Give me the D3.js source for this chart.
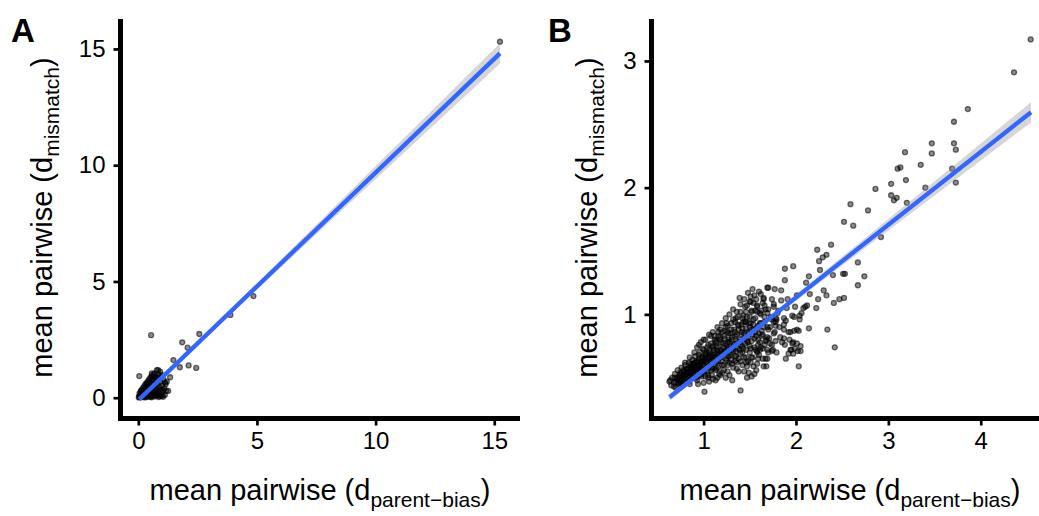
<!DOCTYPE html>
<html>
<head>
<meta charset="utf-8">
<script src="https://cdn.jsdelivr.net/npm/d3@7"></script>
<style>
  body { margin: 0; background: #fff; }
  text { font-family: "Liberation Sans", Arial, Helvetica, sans-serif; fill: #000; }
</style>
</head>
<body>
<svg id="chart" width="1039" height="516"></svg>
<script>
// ---- Panel A: all pairs (x = d parent-bias, y = d mismatch) ----
const pointsA = [
  [15.24,15.31],[4.85,4.37],[3.88,3.56],[2.57,2.74],[0.54,2.69],[1.85,2.38],[2.08,2.15],
  [1.48,1.62],[1.75,1.31],[2.12,1.39],[2.44,1.28],[0.04,0.93],[1.34,0.88],[1.26,0.29],
  [0.84,1.19],[0.98,0.98],[1.13,0.65],[0.78,1.19],[0.57,1.05],[0.92,1.12],[1.20,0.69],
  [1.05,0.04],[0.99,0.12],
  [0.02,0.01],[0.04,0.06],[0.06,0.02],[0.08,0.12],[0.10,0.04],[0.11,0.09],[0.13,0.17],
  [0.14,0.03],[0.16,0.11],[0.18,0.22],[0.19,0.06],[0.21,0.15],[0.23,0.28],[0.24,0.02],
  [0.26,0.12],[0.28,0.20],[0.29,0.33],[0.31,0.07],[0.33,0.25],[0.34,0.15],[0.36,0.38],
  [0.38,0.04],[0.39,0.22],[0.41,0.30],[0.43,0.12],[0.44,0.44],[0.46,0.26],[0.48,0.06],
  [0.49,0.36],[0.51,0.50],[0.53,0.18],[0.54,0.31],[0.56,0.02],[0.58,0.42],[0.59,0.56],
  [0.61,0.24],[0.63,0.10],[0.64,0.48],[0.66,0.62],[0.68,0.33],[0.69,0.05],[0.71,0.54],
  [0.73,0.70],[0.74,0.20],[0.76,0.40],[0.78,0.08],[0.79,0.76],[0.81,0.60],[0.83,0.28],
  [0.85,0.03],[0.86,0.84],[0.88,0.46],[0.90,0.15],[0.92,0.68],[0.94,0.36],[0.96,0.90],
  [0.98,0.07],[1.00,0.52],[1.03,0.24],[1.06,0.78],[1.09,0.40],[1.12,0.12],[1.15,0.58],
  [1.18,0.30],
  [0.10,0.26],[0.15,0.35],[0.20,0.42],[0.25,0.50],[0.30,0.58],[0.35,0.64],[0.40,0.70],
  [0.45,0.78],[0.50,0.85],[0.55,0.88],[0.60,0.80],[0.65,0.92],[0.70,0.98],[0.48,0.66],
  [0.38,0.55],[0.62,0.74],[0.28,0.44],[0.12,0.30],[0.05,0.18],[0.22,0.05],[0.32,0.02],
  [0.44,0.08],[0.52,0.04],[0.62,0.16],[0.72,0.12],[0.82,0.18],[0.92,0.06],[1.02,0.34],
  [0.75,0.88],[0.85,1.00],[0.67,1.05],[0.57,0.96]
];

// ---- Panel B: subset without the extreme pair ----
const pointsB = [
  [4.54,3.17],[4.36,2.91],[3.86,2.62],[3.71,2.52],[3.71,2.35],[3.73,2.30],[3.47,2.35],
  [3.47,2.27],[3.18,2.28],[3.10,2.15],[3.13,2.16],[3.35,2.18],[3.69,2.15],[3.19,2.06],
  [2.86,1.99],[3.03,2.03],[3.40,2.00],[3.73,2.04],[3.03,1.94],[3.09,1.92],[3.06,1.90],
  [3.20,1.88],[2.59,1.87],[2.78,1.82],[2.52,1.73],[2.62,1.70],[2.92,1.61],[2.38,1.55],
  [2.23,1.51],[2.33,1.47],[2.29,1.45],[2.25,1.42],[1.88,1.36],[1.97,1.38],[2.26,1.35],
  [2.67,1.41],[1.88,1.27],[2.14,1.30],[2.40,1.31],[2.51,1.32],[2.53,1.32],[2.74,1.30],
  [2.67,1.23],[2.11,1.25],[1.69,1.21],[1.70,1.21],[1.77,1.20],[1.84,1.19],[2.30,1.19],
  [2.33,1.15],[2.15,1.16],[2.01,1.15],[1.65,1.13],[1.74,1.12],[1.84,1.11],[1.91,1.12],
  [2.24,1.12],[2.47,1.12],[2.52,1.13],[2.41,1.09],[2.12,1.07],[2.08,1.05],[2.10,1.06],
  [2.22,1.05],[1.99,1.06],[1.66,1.07],[1.76,1.06],[1.81,1.03],[1.63,1.03],[1.69,1.01],
  [1.66,0.98],[1.96,0.99],[2.04,0.99],[2.06,1.01],[1.87,0.97],[1.79,0.96],[1.76,0.94],
  [1.89,0.95],[2.04,0.96],[1.61,0.93],[1.65,0.90],[1.70,0.88],[1.78,0.91],[1.87,0.92],
  [2.14,0.89],[2.34,0.88],[1.98,0.87],[2.03,0.87],[1.92,0.86],[1.76,0.85],[1.69,0.82],
  [1.63,0.83],[1.83,0.82],[1.87,0.81],[1.78,0.79],[1.72,0.77],[1.67,0.79],[1.96,0.77],
  [2.01,0.77],[2.05,0.75],[1.99,0.73],[2.42,0.74],[1.61,0.72],[1.69,0.72],[1.74,0.71],
  [1.79,0.70],[1.94,0.72],[2.05,0.71],[1.97,0.69],[1.64,0.65],[1.69,0.65],[1.89,0.65],
  [1.68,0.59],[2.03,0.59],
  [1.51,1.14],[1.51,1.10],[1.54,1.09],[1.47,1.07],[1.58,1.06],[1.52,1.02],[1.58,1.02],
  [1.61,1.01],[1.37,0.98],[1.42,0.97],[1.32,0.96],[1.45,0.94],[1.98,0.98],[1.74,0.96],
  [1.78,0.94],[2.01,0.88],[1.87,0.88],[1.94,0.86],[1.93,0.80],[1.97,0.78],[2.02,0.71],
  [1.88,0.76],[1.95,0.72],[1.92,0.69],[1.59,0.65],[1.67,0.65],[1.65,0.59],[1.58,0.61],
  [1.54,0.59],[1.57,0.56],[1.47,0.59],[1.49,0.54],[1.52,0.51],[1.47,0.50],[1.31,0.48],
  [1.24,0.50],[1.20,0.54],[1.15,0.50],[1.13,0.56],[1.40,0.40],[1.01,0.39],[0.64,0.48],
  [0.69,0.50],[0.73,0.46],[0.68,0.43],[0.77,0.48],[0.78,0.44],[0.82,0.54],[0.78,0.56],
  [0.88,0.55],[0.75,0.54],[0.86,0.59],[0.93,0.59],[0.89,0.61],[1.02,0.51],[1.05,0.50],
  [1.00,0.46],[1.13,0.48],[1.09,0.52],[0.96,0.55],
  [0.63,0.47],[0.65,0.44],[0.66,0.50],[0.68,0.46],[0.69,0.53],[0.70,0.42],[0.71,0.49],
  [0.72,0.56],[0.73,0.45],[0.74,0.52],[0.75,0.48],[0.76,0.58],[0.77,0.44],[0.78,0.51],
  [0.79,0.55],[0.80,0.47],[0.80,0.60],[0.81,0.53],[0.82,0.49],[0.83,0.57],[0.84,0.62],
  [0.85,0.51],[0.85,0.45],[0.86,0.55],[0.87,0.59],[0.88,0.64],[0.88,0.50],[0.89,0.56],
  [0.90,0.60],[0.90,0.53],[0.91,0.67],[0.92,0.57],[0.93,0.62],[0.93,0.48],[0.94,0.54],
  [0.95,0.65],[0.95,0.59],[0.96,0.70],[0.97,0.56],[0.97,0.62],[0.98,0.51],[0.99,0.66],
  [1.00,0.60],[1.00,0.72],[1.01,0.55],[1.02,0.64],[1.02,0.68],[1.03,0.58],[1.04,0.74],
  [1.04,0.62],[1.05,0.52],[1.06,0.66],[1.06,0.70],[1.07,0.60],[1.08,0.77],[1.08,0.56],
  [1.09,0.64],[1.10,0.68],[1.10,0.49],[1.11,0.72],[1.12,0.61],[1.12,0.80],[1.13,0.66],
  [1.14,0.57],[1.14,0.75],[1.15,0.69],[1.16,0.63],[1.16,0.83],[1.17,0.53],[1.18,0.71],
  [1.18,0.66],[1.19,0.78],[1.20,0.60],[1.20,0.86],[1.21,0.70],[1.22,0.74],[1.22,0.56],
  [1.23,0.81],[1.24,0.65],[1.24,0.90],[1.25,0.72],[1.26,0.60],[1.26,0.78],[1.27,0.85],
  [1.28,0.69],[1.28,0.52],[1.29,0.75],[1.30,0.93],[1.30,0.64],[1.31,0.82],[1.32,0.71],
  [1.32,0.58],[1.33,0.88],[1.34,0.77],[1.34,0.67],[1.35,0.97],[1.36,0.62],[1.36,0.84],
  [1.37,0.73],[1.38,0.91],[1.38,0.55],[1.39,0.80],[1.40,0.69],[1.40,1.02],[1.41,0.86],
  [1.42,0.75],[1.42,0.60],[1.43,0.94],[1.44,0.81],[1.44,0.66],[1.45,1.06],[1.46,0.89],
  [1.46,0.72],[1.47,0.98],[1.48,0.78],[1.48,0.63],[1.49,0.85],[1.50,1.10],[1.50,0.70],
  [1.51,0.93],[1.52,0.79],[1.52,1.03],[1.53,0.66],[1.54,0.88],[1.55,1.15],[1.55,0.74],
  [1.56,0.97],[1.57,0.83],[1.58,1.07],[1.58,0.70],[1.59,0.91],[1.60,1.18],[1.61,0.78],
  [1.62,1.00],[1.63,0.87],[1.64,0.73],[1.65,1.12],[1.66,0.94],[1.68,0.80],[1.70,1.04],
  [1.72,0.90],[1.74,0.76],[1.76,1.08],[1.78,0.97],
  [0.72,0.50],[0.74,0.46],[0.76,0.53],[0.79,0.49],[0.81,0.57],[0.83,0.52],[0.84,0.47],
  [0.86,0.61],[0.87,0.53],[0.89,0.58],[0.91,0.51],[0.92,0.63],[0.94,0.57],[0.95,0.68],
  [0.96,0.52],[0.98,0.61],[0.99,0.73],[1.00,0.56],[1.01,0.65],[1.03,0.70],[1.04,0.59],
  [1.05,0.76],[1.07,0.63],[1.08,0.68],[1.09,0.58],[1.10,0.74],[1.11,0.66],[1.13,0.79],
  [1.14,0.62],[1.15,0.71],[1.17,0.68],[1.18,0.82],[1.19,0.63],[1.21,0.77],[1.22,0.69],
  [1.23,0.87],[1.25,0.64],[1.26,0.74],[1.27,0.80],[1.29,0.68],[1.30,0.88],[1.31,0.61],
  [1.33,0.76],[1.34,0.83],[1.35,0.71],[1.37,0.92],[1.38,0.65],[1.39,0.78],[1.41,0.84],
  [1.42,0.70],[1.43,0.99],[1.45,0.77],[1.46,0.66],[1.47,0.86],[1.49,0.93],[1.50,0.75],
  [1.51,0.62],[1.53,0.84],[1.54,0.96],[1.56,0.72],[1.57,0.89],[1.59,0.80],[1.60,0.68],
  [1.62,0.93],[1.64,0.84],[1.66,0.76],[1.67,1.04],[1.69,0.90],[1.71,0.81],[1.73,0.98],
  [1.75,0.72],[1.77,0.86],[1.80,1.01],[1.82,0.90],[1.85,0.78],[1.90,1.05],
  [0.80,0.62],[0.85,0.66],[0.90,0.70],[0.93,0.74],[0.97,0.78],[1.02,0.80],[1.06,0.84],
  [1.10,0.86],[1.15,0.90],[1.20,0.93],[1.24,0.97],[1.28,1.00],[1.32,1.04],[1.36,1.02],
  [1.40,1.08],[1.44,1.12],[1.48,1.17],[1.53,1.20],[1.57,1.12],[1.62,1.16],[1.46,1.02],
  [1.34,0.94],[1.26,0.91],[1.18,0.88],[1.12,0.83],[1.08,0.83],[1.00,0.80],[0.95,0.76],
  [1.39,1.13],[1.56,1.03],[1.64,1.09],[1.50,0.98],[1.41,0.92],[1.29,0.85],[1.25,0.93],
  [1.16,0.86],
  [0.85,0.48],[0.92,0.50],[0.98,0.53],[1.04,0.55],[1.10,0.57],[1.16,0.58],[1.22,0.60],
  [1.28,0.62],[1.34,0.63],[1.40,0.63],[1.46,0.62],[1.52,0.66],[1.58,0.71],[1.36,0.57],
  [1.26,0.55],[1.18,0.52],[1.06,0.47],[0.94,0.45],[1.44,0.55],[1.62,0.74],[1.70,0.70],
  [1.55,0.53],
  [0.70,0.47],[0.74,0.50],[0.78,0.53],[0.82,0.56],[0.86,0.58],[0.90,0.62],[0.94,0.63],
  [0.98,0.66],[1.02,0.69],[1.06,0.72],[1.10,0.75],[1.14,0.78],[1.18,0.80],[1.22,0.83],
  [1.26,0.86],[1.30,0.80],[1.34,0.86],[1.38,0.88],[1.42,0.89],[1.46,0.94],[1.50,0.90],
  [1.54,0.92],[0.76,0.46],[0.80,0.52],[0.84,0.54],[0.88,0.57],[0.92,0.55],[0.96,0.60],
  [1.00,0.63],[1.04,0.66],[1.08,0.62],[1.12,0.70],[1.16,0.74],[1.20,0.68],[1.24,0.76],
  [1.28,0.78],[1.32,0.74],[1.36,0.79],[1.40,0.76],[1.44,0.85],[1.48,0.82],[1.52,0.88],
  [1.56,0.86],[1.60,0.85],[0.98,0.57],[1.03,0.62],[1.07,0.67],[1.11,0.64],[1.15,0.66],
  [1.19,0.72],[1.23,0.71],[1.27,0.67],[1.31,0.72],[1.35,0.67],[1.39,0.72],[1.43,0.73],
  [1.47,0.79],[1.51,0.73],[1.55,0.81],[1.59,0.76]
];

// Linear fits (endpoints span the x range of each panel's data)
const fitAX = [0.04, 15.24];
const fitAY = [-0.07, 14.81];
const fitBX = [0.632, 4.544];
const fitBY = [0.346, 2.595];

// 95% confidence band half-widths along x
const bandAX    = [0.04, 2, 4, 6, 8, 10, 12, 14, 15.24];
const bandAHalf = [0.06, 0.07, 0.11, 0.16, 0.22, 0.28, 0.34, 0.40, 0.44];
const bandBX    = [0.632, 1.0, 1.3, 1.6, 2.0, 2.5, 3.0, 3.5, 4.0, 4.544];
const bandBHalf = [0.028, 0.02, 0.017, 0.018, 0.024, 0.034, 0.045, 0.056, 0.067, 0.08];

// Tick values
const ticksAX = [0, 5, 10, 15];
const ticksAY = [0, 5, 10, 15];
const ticksBX = [1, 2, 3, 4];
const ticksBY = [1, 2, 3];

const svg = d3.select("#chart");
svg.append("rect").attr("width", 1039).attr("height", 516).attr("fill", "#fff");

function drawPanel(cfg) {
  const g = svg.append("g");
  const x = d3.scaleLinear().domain(cfg.xDomain).range([cfg.left, cfg.right]);
  const y = d3.scaleLinear().domain(cfg.yDomain).range([cfg.bottom, cfg.top]);

  // points
  g.append("g").selectAll("circle").data(cfg.points).join("circle")
    .attr("cx", d => x(d[0])).attr("cy", d => y(d[1])).attr("r", 2.5)
    .attr("fill", "#000").attr("fill-opacity", 0.45)
    .attr("stroke", "#000").attr("stroke-opacity", 0.55).attr("stroke-width", 1.3);

  // confidence band + fitted line
  const fit = d3.scaleLinear().domain(cfg.fitX).range(cfg.fitY);
  const band = cfg.bandX.map((bx, i) => [bx, fit(bx) - cfg.bandHalf[i], fit(bx) + cfg.bandHalf[i]]);
  g.append("path").datum(band)
    .attr("d", d3.area().x(d => x(d[0])).y0(d => y(d[1])).y1(d => y(d[2])))
    .attr("fill", "#999").attr("fill-opacity", 0.4);
  g.append("path").datum(cfg.fitX.map((fx, i) => [fx, cfg.fitY[i]]))
    .attr("d", d3.line().x(d => x(d[0])).y(d => y(d[1])))
    .attr("fill", "none").attr("stroke", "#3366FF").attr("stroke-width", 4.3);

  // axes
  const fmt = d3.format("d");
  const xAxis = g.append("g").attr("transform", `translate(0,${cfg.bottom + 2.5})`)
    .call(d3.axisBottom(x).tickValues(cfg.ticksX).tickFormat(fmt)
      .tickSize(7).tickSizeOuter(0).tickPadding(6));
  const yAxis = g.append("g").attr("transform", `translate(${cfg.left - 2.5},0)`)
    .call(d3.axisLeft(y).tickValues(cfg.ticksY).tickFormat(fmt)
      .tickSize(7).tickSizeOuter(0).tickPadding(8));
  [xAxis, yAxis].forEach(a => {
    a.select(".domain").remove();
    a.selectAll(".tick line").attr("stroke", "#000").attr("stroke-width", 2.7);
    a.selectAll(".tick text").attr("font-size", 24).attr("fill", "#000")
      .style("font-family", '"Liberation Sans", Arial, sans-serif');
  });
  g.append("line").attr("x1", cfg.left - 2.5).attr("x2", cfg.left - 2.5)
    .attr("y1", cfg.top).attr("y2", cfg.bottom + 5)
    .attr("stroke", "#000").attr("stroke-width", 5);
  g.append("line").attr("x1", cfg.left - 5).attr("x2", cfg.right)
    .attr("y1", cfg.bottom + 2.5).attr("y2", cfg.bottom + 2.5)
    .attr("stroke", "#000").attr("stroke-width", 5);

  // axis titles
  const xt = g.append("text").attr("x", cfg.xTitleX).attr("y", 500)
    .attr("text-anchor", "middle").attr("font-size", 29);
  xt.append("tspan").text("mean pairwise (d");
  xt.append("tspan").attr("dy", 7).attr("font-size", 21).text("parent\u2212bias");
  xt.append("tspan").attr("dy", -7).text(")");

  const yt = g.append("text")
    .attr("transform", `translate(${cfg.yTitleX},${(cfg.top + cfg.bottom) / 2}) rotate(-90)`)
    .attr("text-anchor", "middle").attr("font-size", 29);
  yt.append("tspan").text("mean pairwise (d");
  yt.append("tspan").attr("dy", 7).attr("font-size", 21).text("mismatch");
  yt.append("tspan").attr("dy", -7).text(")");

  // panel tag
  g.append("text").attr("x", cfg.tagX).attr("y", 42)
    .attr("font-size", 33).attr("font-weight", "bold").text(cfg.tag);
}

drawPanel({
  tag: "A", tagX: 11,
  points: pointsA, fitX: fitAX, fitY: fitAY, bandX: bandAX, bandHalf: bandAHalf,
  ticksX: ticksAX, ticksY: ticksAY,
  left: 123, right: 520, top: 19, bottom: 416,
  xDomain: [-0.645, 16.085], yDomain: [-0.787, 16.288],
  xTitleX: 320, yTitleX: 52
});

drawPanel({
  tag: "B", tagX: 548,
  points: pointsB, fitX: fitBX, fitY: fitBY, bandX: bandBX, bandHalf: bandBHalf,
  ticksX: ticksBX, ticksY: ticksBY,
  left: 654, right: 1052, top: 19, bottom: 416,
  xDomain: [0.4635, 4.771], yDomain: [0.198, 3.331],
  xTitleX: 850, yTitleX: 597
});
</script>
</body>
</html>
